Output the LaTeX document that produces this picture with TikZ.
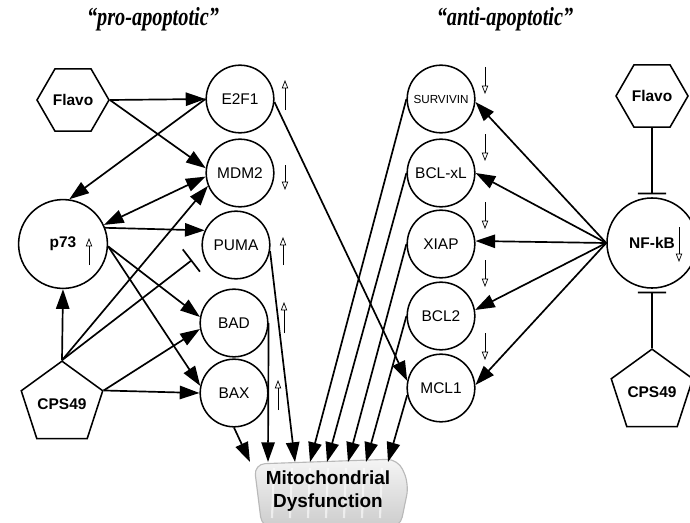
\documentclass[tikz,border=0pt]{standalone}
\usepackage{fontspec}
\setmainfont{Liberation Serif}
\setsansfont{Liberation Sans}
\usetikzlibrary{arrows.meta, shapes.geometric, calc}

\begin{document}
\begin{tikzpicture}[x=0.025cm, y=0.025cm,
		gene/.style={circle, draw, line width=1.1pt, minimum size=1.69cm, inner sep=0pt, font=\sffamily\fontsize{11}{13}\selectfont},
		hub/.style={gene, minimum size=2.22cm, font=\sffamily\bfseries\fontsize{11}{13}\selectfont},
		hexdrug/.style={regular polygon, regular polygon sides=6, draw, line width=1.1pt, minimum size=1.8cm, inner sep=0pt, font=\sffamily\bfseries\fontsize{11}{13}\selectfont},
		pentdrug/.style={regular polygon, regular polygon sides=5, draw, line width=1.1pt, minimum size=1.85cm, inner sep=0pt, font=\sffamily\bfseries\fontsize{11}{13}\selectfont},
		act/.style={line width=1.2pt, -{Triangle[length=14pt,width=9.5pt]}},
		dual/.style={line width=1.2pt, {Triangle[length=14pt,width=9.5pt]}-{Triangle[length=14pt,width=9.5pt]}},
		inh/.style={line width=1.2pt, -{Bar[width=20pt]}},
		trend/.style={line width=0.5pt, -{Triangle[open,length=6pt,width=4.5pt]}},
		heading/.style={font=\bfseries\itshape\fontsize{18.5}{20}\selectfont}]
		\useasboundingbox (0,0) rectangle (690,522);

		% headings
		\node[heading] (pro) at (153,503) {\scalebox{0.78}[1]{“pro-apoptotic”}};
		\node[heading] (anti) at (505,503) {\scalebox{0.78}[1]{“anti-apoptotic”}};

		% mitochondrion
		\draw[gray!55, line width=0.8pt, top color=gray!8, bottom color=gray!40, rounded corners=8pt]
			(254,58) -- (262,-6) -- (400,-6) -- (409,38) -- (398,63) -- cycle;
		\foreach \x in {272,290,...,395}
			\draw[white, line width=1.5pt, opacity=0.6] (\x,4) -- (\x+2,54);
		\node[font=\sffamily\bfseries\fontsize{13.5}{16.4}\selectfont, align=center] (mito) at (328,31) {Mitochondrial\\Dysfunction};
		\foreach \i/\x in {1/250,2/268,3/295,4/310,5/327,6/348,7/366,8/388}
			\coordinate (m\i) at (\x,60);

		% pro-apoptotic side
		\node[hexdrug] (flavoL) at (73,422) {Flavo};
		\node[pentdrug] (cpsL) at (62,118) {CPS49};
		\node[hub] (p73) at (63,278) {p73};
		\node[gene] (e2f1) at (240,423) {E2F1};
		\node[gene] (mdm2) at (240,349) {MDM2};
		\node[gene] (puma) at (236,277) {PUMA};
		\node[gene] (bad) at (234,199) {BAD};
		\node[gene] (bax) at (234,129) {BAX};
		\coordinate (pumabar) at (192,262);

		% anti-apoptotic side
		\node[gene, font=\sffamily\fontsize{8.3}{10}\selectfont] (surv) at (441,423) {SURVIVIN};
		\node[gene] (bclxl) at (441,349) {BCL-xL};
		\node[gene] (xiap) at (441,278) {XIAP};
		\node[gene] (bcl2) at (441,206) {BCL2};
		\node[gene] (mcl1) at (441,134) {MCL1};
		\node[hub, minimum size=2.25cm] (nfkb) at (652,279) {NF-kB};
		\node[hexdrug] (flavoR) at (652,426) {Flavo};
		\node[pentdrug] (cpsR) at (652,130) {CPS49};

		% up / down changes
		\draw[trend] ([shift={(45,-11)}]e2f1.center) -- ++(0,30);
		\draw[trend] ([shift={(45,8)}]mdm2.center) -- ++(0,-25);
		\draw[trend] ([shift={(47,-20)}]puma.center) -- ++(0,28);
		\draw[trend] ([shift={(26,-21)}]p73.center) -- ++(0,27);
		\draw[trend] ([shift={(50,-10)}]bad.center) -- ++(0,31);
		\draw[trend] ([shift={(44,-17)}]bax.center) -- ++(0,30);
		\foreach \n/\dy in {surv/32,bclxl/39,xiap/42,bcl2/56,mcl1/55}
			\draw[trend] ([shift={(44,\dy)}]\n.center) -- ++(0,-27);
		\draw[trend] ([shift={(27,16)}]nfkb.center) -- ++(0,-35);

		% connectors, pro side
		\draw[act] (flavoL.east) -- (e2f1.west);
		\draw[act] (flavoL.east) -- (mdm2.172);
		\draw[act] (e2f1.west) -- (p73.82);
		\draw[dual] (mdm2.186) -- (p73.25);
		\draw[act] (p73.21) -- (puma.155);
		\draw[act] (p73.-3) -- (bad.170);
		\draw[act] (p73.-3) -- (bax.168);
		\draw[act] (cpsL.north) -- (p73.south);
		\draw[act] (cpsL.north) -- (mdm2.202);
		\draw[inh] (cpsL.north) -- (pumabar);
		\draw[act] (cpsL.18) -- (bad.190);
		\draw[act] (cpsL.18) -- (bax.west);
		\draw[act] (e2f1.-5) -- (mcl1.168);

		% connectors, anti side
		\draw[act] (nfkb.west) -- (surv.-5);
		\draw[act] (nfkb.west) -- (bclxl.east);
		\draw[act] (nfkb.west) -- (xiap.5);
		\draw[act] (nfkb.west) -- (bcl2.10);
		\draw[act] (nfkb.west) -- (mcl1.5);
		\draw[inh, shorten >=2pt] (flavoR.south) -- (nfkb.north);
		\draw[inh, shorten >=2pt] (cpsR.north) -- (nfkb.south);

		% into the mitochondrion
		\draw[act] (bax.south) -- (m1);
		\draw[act] (bad.east) -- (m2);
		\draw[act] (puma.-10) -- (m3);
		\draw[act] (surv.west) -- (m4);
		\draw[act] (bclxl.west) -- (m5);
		\draw[act] (xiap.west) -- (m6);
		\draw[act] (bcl2.west) -- (m7);
		\draw[act] (mcl1.192) -- (m8);
	\end{tikzpicture}
\end{document}
